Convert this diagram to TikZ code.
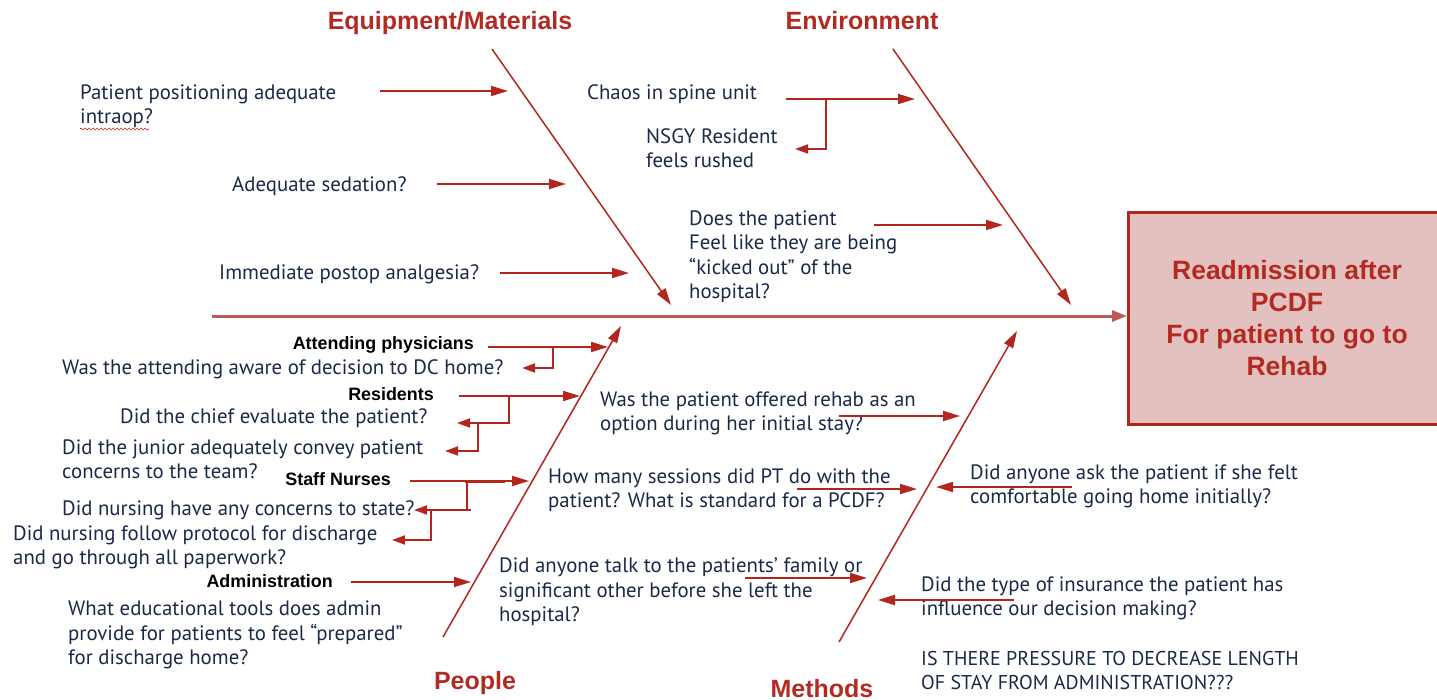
\documentclass[tikz,border=0pt]{standalone}
\usepackage{fontspec}
\setmainfont{PT Sans}
\newfontfamily\headfont{Liberation Sans}
\usetikzlibrary{arrows.meta,decorations.pathmorphing}

\definecolor{bonered}{HTML}{B3261E}
\definecolor{spinered}{HTML}{BC5A56}
\definecolor{titlered}{HTML}{B22A22}
\definecolor{effectfill}{HTML}{E3C1C1}
\definecolor{navy}{HTML}{1A2947}

% cause texts are placed by the baseline of their LAST line
\tikzset{
  cause/.style={font=\fontsize{20.8}{24.5}\selectfont, text=navy, inner sep=0pt, anchor=base west, align=left, yshift=-1.5pt},
  grouplabel/.style={font=\headfont\bfseries\fontsize{17.9}{20}\selectfont, text=black, inner sep=0pt, anchor=base east},
  category/.style={font=\headfont\bfseries\fontsize{25}{30}\selectfont, text=titlered, inner sep=0pt, anchor=base},
  bone/.style={draw=bonered, line width=1.5pt, -{Triangle[length=17pt,width=10pt]}},
  feed/.style={draw=bonered, line width=1.8pt, -{Triangle[length=17pt,width=10pt]}},
  elbow/.style={draw=bonered, line width=1.8pt, -{Triangle[length=13pt,width=9pt]}},
  spine/.style={draw=spinered, line width=3pt, -{Triangle[length=15pt,width=11pt]}},
}

\begin{document}
\begin{tikzpicture}[x=1pt,y=-1pt]
\useasboundingbox (0,0) rectangle (1437,699);

% ---- effect box ----
\node (effect) [draw=bonered, fill=effectfill, line width=3pt, minimum width=320pt, minimum height=212pt, anchor=north west, inner sep=0pt] at (1127,211) {};
\node (effecttext) [font=\headfont\bfseries\fontsize{26.5}{32}\selectfont, text=titlered, align=center, inner sep=0pt] at (1287,318)
  {Readmission after\\PCDF\\For patient to go to\\Rehab};

% ---- spine ----
\coordinate (spinetail) at (212,316);
\draw[spine] (spinetail) -- (effect.west |- spinetail);

% ---- category titles ----
\node (tequip) [category] at (450,29) {Equipment/Materials};
\node (tenv)   [category] at (862,29) {Environment};
\node (tpeople)[category] at (475,689) {People};
\node (tmeth)  [category] at (822,697) {Methods};

% ---- main bones ----
\coordinate (eqtop) at (492,49);   \coordinate (eqtip) at (671,305);
\coordinate (envtop) at (893,49);  \coordinate (envtip) at (1071,305);
\coordinate (peobot) at (443,637); \coordinate (peotip) at (621,326);
\coordinate (metbot) at (839,642); \coordinate (mettip) at (1017,331);
\draw[bone] (eqtop) -- (eqtip);
\draw[bone] (envtop) -- (envtip);
\draw[bone] (peobot) -- (peotip);
\draw[bone] (metbot) -- (mettip);

% ---- Equipment/Materials causes ----
\node (c1) [cause] at (80,122) {Patient positioning adequate\\intraop?};
\draw[bonered, line width=0.6pt, decorate, decoration={snake, amplitude=1pt, segment length=4pt}] (80,129) -- (149,129);
\coordinate (c1s) at (380,91); \coordinate (c1e) at (508,91);
\draw[feed] (c1s) -- (c1e);

\node (c2) [cause] at (232,190) {Adequate sedation?};
\coordinate (c2s) at (437,184); \coordinate (c2e) at (566,184);
\draw[feed] (c2s) -- (c2e);

\node (c3) [cause] at (219,278) {Immediate postop analgesia?};
\coordinate (c3s) at (500,273); \coordinate (c3e) at (629,273);
\draw[feed] (c3s) -- (c3e);

% ---- Environment causes ----
\node (c4) [cause] at (587,98) {Chaos in spine unit};
\coordinate (c4s) at (786,99); \coordinate (c4e) at (915,99);
\draw[feed] (c4s) -- (c4e);
\node (c5) [cause] at (646,166) {NSGY Resident\\feels rushed};
\coordinate (c5k) at (826,99); \coordinate (c5e) at (795,149);
\draw[elbow] (c5k) |- (c5e);

\node (c6) [cause] at (689,297) {Does the patient\\Feel like they are being\\“kicked out” of the\\hospital?};
\coordinate (c6s) at (874,225); \coordinate (c6e) at (1003,225);
\draw[feed] (c6s) -- (c6e);

% ---- People causes ----
\node (g1) [grouplabel] at (474,349) {Attending physicians};
\coordinate (g1s) at (488,347); \coordinate (g1e) at (608,347);
\draw[feed] (g1s) -- (g1e);
\node (p1) [cause] at (62,373) {Was the attending aware of decision to DC home?};
\coordinate (p1k) at (553,347); \coordinate (p1e) at (522,368);
\draw[elbow] (p1k) |- (p1e);

\node (g2) [grouplabel] at (434,400) {Residents};
\coordinate (g2s) at (459,396); \coordinate (g2e) at (580,396);
\draw[feed] (g2s) -- (g2e);
\node (p2) [cause] at (120,422) {Did the chief evaluate the patient?};
\coordinate (p2k) at (509,396); \coordinate (p2e) at (457,423);
\draw[elbow] (p2k) |- (p2e);
\node (p3) [cause] at (62,477) {Did the junior adequately convey patient\\concerns to the team?};
\coordinate (p3k) at (478,423); \coordinate (p3e) at (445,451);
\draw[elbow] (p3k) |- (p3e);

\node (g3) [grouplabel] at (391,485) {Staff Nurses};
\coordinate (g3s) at (410,481); \coordinate (g3e) at (529,481);
\draw[feed] (g3s) -- (g3e);
\draw[bonered, line width=3pt] (465,481) -- (505,481);
\node (p4) [cause] at (62,514) {Did nursing have any concerns to state?};
\coordinate (p4k) at (467,481); \coordinate (p4e) at (414,510);
\draw[elbow] (p4k) |- (p4e);
\draw[bonered, line width=1.8pt] (p4k |- p4e) -- ++(4,0);
\node (p5) [cause] at (13,563) {Did nursing follow protocol for discharge\\and go through all paperwork?};
\coordinate (p5k) at (431,510); \coordinate (p5e) at (392,540);
\draw[elbow] (p5k) |- (p5e);

\node (g4) [grouplabel] at (333,587) {Administration};
\coordinate (g4s) at (351,582); \coordinate (g4e) at (471,582);
\draw[feed] (g4s) -- (g4e);
\node (p6) [cause] at (68,663) {What educational tools does admin\\provide for patients to feel “prepared”\\for discharge home?};

% ---- Causes between People and Methods ----
\node (m1) [cause] at (600,429) {Was the patient offered rehab as an\\option during her initial stay?};
\coordinate (m1s) at (839,416); \coordinate (m1e) at (960,416);
\draw[feed] (m1s) -- (m1e);

\node (m2) [cause] at (548,506) {How many sessions did PT do with the\\patient? What is standard for a PCDF?};
\coordinate (m2s) at (797,489); \coordinate (m2e) at (917,489);
\draw[feed] (m2s) -- (m2e);

\node (m3) [cause] at (499,620) {Did anyone talk to the patients’ family or\\significant other before she left the\\hospital?};
\coordinate (m3s) at (745,578); \coordinate (m3e) at (867,578);
\draw[feed] (m3s) -- (m3e);

% ---- Methods causes ----
\node (m4) [cause] at (970,502) {Did anyone ask the patient if she felt\\comfortable going home initially?};
\coordinate (m4s) at (1072,487); \coordinate (m4e) at (936,487);
\draw[feed] (m4s) -- (m4e);

\node (m5) [cause] at (921,614) {Did the type of insurance the patient has\\influence our decision making?};
\coordinate (m5s) at (1014,600); \coordinate (m5e) at (878,600);
\draw[feed] (m5s) -- (m5e);

\node (m6) [cause, font=\fontsize{20}{24.5}\selectfont] at (921,688) {IS THERE PRESSURE TO DECREASE LENGTH\\OF STAY FROM ADMINISTRATION???};

\end{tikzpicture}
\end{document}
